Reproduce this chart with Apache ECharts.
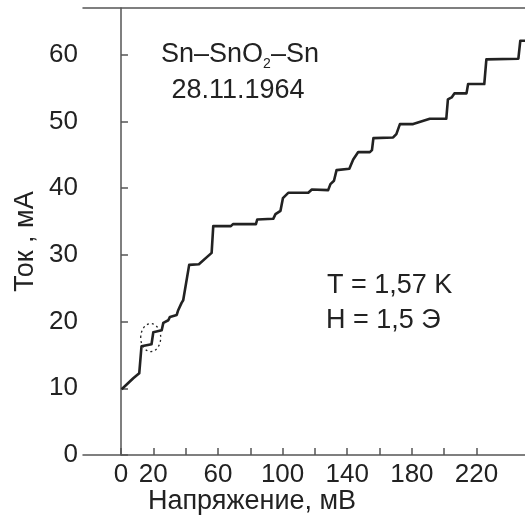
<!DOCTYPE html>
<html>
<head>
<meta charset="utf-8">
<script src="https://cdn.jsdelivr.net/npm/echarts@6/dist/echarts.min.js"></script>
<style>
  html, body { margin: 0; padding: 0; background: #fff; }
  #chart { width: 525px; height: 517px; }
</style>
</head>
<body>
<div id="chart"></div>
<script>
// I-V curve: voltage (mV) and current (mA)
const voltage = [0.4, 7.6, 11.3, 12.7, 18.9, 20.0, 25.2, 26.2, 29.3, 30.3, 34.5, 35.4, 37.5, 38.5,
    42.2, 48.2, 56.1, 57.1, 68.0, 69.3, 83.5, 84.3, 94.2, 95.6, 98.7, 100.2, 103.5, 115.9,
    118.1, 128.2, 129.6, 131.8, 133.4, 141.3, 143.7, 146.8, 154.0, 155.3, 156.2, 168.4,
    170.4, 172.6, 180.8, 191.1, 201.3, 202.3, 204.6, 206.3, 213.8, 214.8, 224.8, 226.1,
    245.9, 247.1, 250];
const current = [9.85, 11.5, 12.25, 16.3, 16.6, 18.4, 18.7, 19.8, 20.2, 20.7, 21.0, 21.7, 22.8, 23.2,
    28.5, 28.6, 30.3, 34.3, 34.3, 34.6, 34.6, 35.3, 35.4, 36.1, 36.6, 38.5, 39.3, 39.3,
    39.8, 39.7, 40.6, 41.1, 42.7, 42.9, 44.3, 45.4, 45.4, 45.7, 47.5, 47.6,
    48.1, 49.6, 49.6, 50.4, 50.4, 53.3, 53.6, 54.2, 54.2, 55.6, 55.6, 59.3,
    59.4, 62.1, 62.1];

const xTicks = [0, 20, 40, 60, 80, 100, 120, 140, 160, 180, 200, 220];
const xLabels = [0, 20, 60, 100, 140, 180, 220];
const yTicks = [0, 10, 20, 30, 40, 50, 60];

// dotted ring marks the step near 18 mV
const circleAt = [18.4, 17.6];

const font = 'Liberation Sans, Arial, Helvetica, sans-serif';
const ink = '#222';
const axisGray = '#555';

const chart = echarts.init(document.getElementById('chart'));

chart.setOption({
    animation: false,
    grid: { left: 83, right: 0, top: 8, bottom: 62, containLabel: false, outerBoundsMode: 'none' },
    xAxis: [{
        type: 'value',
        min: -23.5,
        max: 250,
        name: 'Напряжение, мВ',
        nameLocation: 'middle',
        nameGap: 33,
        nameMoveOverlap: false,
        // name sits left of the axis middle in the original
        nameTextStyle: { color: ink, fontSize: 27, fontFamily: font, padding: [0, 104, 0, 0] },
        axisLine: { lineStyle: { color: axisGray, width: 1.5 } },
        axisTick: { inside: true, length: 7, customValues: xTicks, lineStyle: { color: axisGray, width: 1.5 } },
        axisLabel: { customValues: xLabels, margin: 7, color: ink, fontSize: 26, fontFamily: font },
        splitLine: { show: false }
    }, {
        type: 'value',
        position: 'top',
        min: -23.5,
        max: 250,
        axisLine: { show: true, lineStyle: { color: axisGray, width: 1.5 } },
        axisTick: { show: false },
        axisLabel: { show: false },
        splitLine: { show: false }
    }],
    yAxis: {
        type: 'value',
        min: 0,
        max: 67,
        name: 'Ток , мА',
        nameLocation: 'middle',
        nameGap: 44,
        nameMoveOverlap: false,
        nameTextStyle: { color: ink, fontSize: 27, fontFamily: font, padding: [0, 20, 0, 0] },
        axisLine: { show: true, lineStyle: { color: axisGray, width: 1.5 } },
        axisTick: { show: true, inside: true, length: 7, customValues: yTicks, lineStyle: { color: axisGray, width: 1.5 } },
        axisLabel: { customValues: yTicks, margin: 5, color: ink, fontSize: 26, fontFamily: font },
        splitLine: { show: false }
    },
    series: [{
        type: 'line',
        data: voltage.map((v, i) => [v, current[i]]),
        showSymbol: false,
        lineStyle: { color: ink, width: 2.6, join: 'round' },
        clip: false
    }]
});

const ring = chart.convertToPixel({ gridIndex: 0 }, circleAt);

chart.setOption({
    graphic: [{
        type: 'text',
        style: {
            x: 240,
            y: 55,
            align: 'center',
            verticalAlign: 'middle',
            text: '{a|Sn–SnO}{s|2}{a|–Sn}',
            fill: ink,
            rich: {
                a: { fontSize: 27, fontFamily: font, lineHeight: 32, fill: ink },
                s: { fontSize: 14, fontFamily: font, lineHeight: 14, verticalAlign: 'bottom', fill: ink }
            }
        }
    }, {
        type: 'text',
        style: { x: 238, y: 91, align: 'center', verticalAlign: 'middle', text: '28.11.1964', fill: ink, fontSize: 27, fontFamily: font }
    }, {
        type: 'text',
        style: { x: 327, y: 286, align: 'left', verticalAlign: 'middle', text: 'T = 1,57 K', fill: ink, fontSize: 27, fontFamily: font }
    }, {
        type: 'text',
        style: { x: 326, y: 321, align: 'left', verticalAlign: 'middle', text: 'H = 1,5 Э', fill: ink, fontSize: 27, fontFamily: font }
    }, {
        type: 'ellipse',
        shape: { cx: ring[0], cy: ring[1], rx: 10, ry: 14 },
        style: { fill: null, stroke: ink, lineWidth: 1.3, lineDash: [2, 3] }
    }]
});

window.addEventListener('resize', () => chart.resize());
</script>
</body>
</html>
